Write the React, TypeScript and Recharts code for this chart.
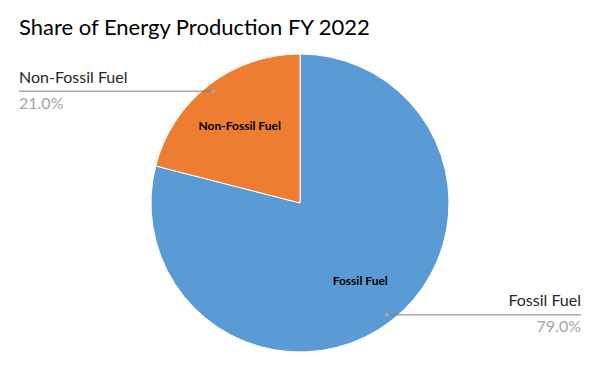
import { PieChart, Pie, Cell } from "recharts"

const categories = ["Fossil Fuel", "Non-Fossil Fuel"]
const shares = [79.0, 21.0]
const COLORS = ["#5B9BD5", "#ED7D31"]

const data = categories.map((name, i) => ({ name, value: shares[i] }))

const RADIAN = Math.PI / 180
const FONT = "Lato, 'Open Sans', sans-serif"

// inner name + leader line with name/percent outside
function renderLabel({ cx, cy, midAngle, outerRadius, name, percent }: any) {
  const cos = Math.cos(-midAngle * RADIAN)
  const sin = Math.sin(-midAngle * RADIAN)
  const innerR = outerRadius * 0.66
  const ix = cx + innerR * cos
  const iy = cy + innerR * sin
  const dotR = outerRadius * 0.95
  const dx = cx + dotR * cos
  const dy = cy + dotR * sin
  const right = cos >= 0
  const endX = right ? cx + 281 : cx - 281
  const anchor = right ? "end" : "start"
  return (
    <g>
      <text x={ix} y={iy} textAnchor="middle" dominantBaseline="central"
        fontFamily={FONT} fontSize={12} fontWeight={700} fill="#000">
        {name}
      </text>
      <line x1={dx} y1={dy} x2={endX} y2={dy} stroke="#7f7f7f" strokeWidth={1} />
      <circle cx={dx} cy={dy} r={2} fill="#a5a5a5" />
      <text x={endX} y={dy - 15} textAnchor={anchor} dominantBaseline="central"
        fontFamily={FONT} fontSize={16} fill="#262626">
        {name}
      </text>
      <text x={endX} y={dy + 11} textAnchor={anchor} dominantBaseline="central"
        fontFamily={FONT} fontSize={16} fill="#a5a5a5">
        {(percent * 100).toFixed(1)}%
      </text>
    </g>
  )
}

export default function App() {
  return (
    <div style={{ position: "absolute", left: 0, top: 0, width: 600, height: 371, background: "#fff" }}>
      <div style={{ position: "absolute", left: 19, top: 14, fontFamily: FONT, fontSize: 22, color: "#000", lineHeight: "26px" }}>
        Share of Energy Production FY 2022
      </div>
      <PieChart width={600} height={371} margin={{ top: 0, right: 0, bottom: 0, left: 0 }}>
        <Pie
          data={data}
          dataKey="value"
          nameKey="name"
          cx={300}
          cy={203}
          outerRadius={149}
          startAngle={90}
          endAngle={-270}
          stroke="#fff"
          strokeWidth={1}
          label={renderLabel}
          labelLine={false}
          isAnimationActive={false}
        >
          {data.map((_, i) => (
            <Cell key={i} fill={COLORS[i]} />
          ))}
        </Pie>
      </PieChart>
    </div>
  )
}
